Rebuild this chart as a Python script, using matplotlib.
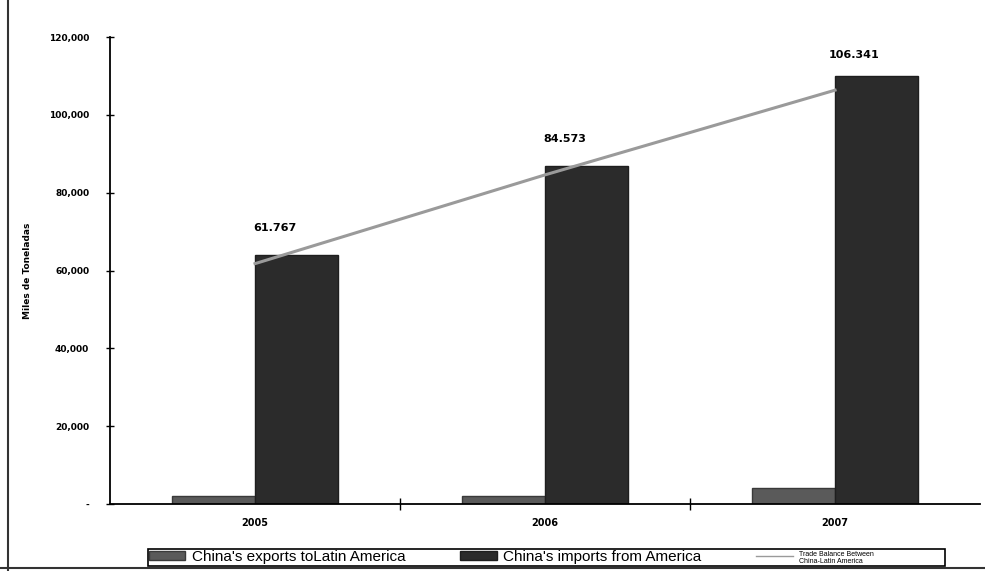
import numpy as np
import matplotlib.pyplot as plt
from matplotlib.ticker import FuncFormatter
from matplotlib.font_manager import FontProperties
from matplotlib.patches import Rectangle

# Data
years = ["2005", "2006", "2007"]
exports = [2000, 2000, 4100]          # China's exports to Latin America
imports = [64000, 86800, 110000]      # China's imports from America
balance = [61767, 84573, 106341]      # trade balance
balance_labels = ["61.767", "84.573", "106.341"]

fig = plt.figure(figsize=(9.85, 5.71), dpi=100)
ax = fig.add_axes([0.1117, 0.1173, 0.8833, 0.8179])

x = np.arange(len(years))
w = 0.286

b1 = ax.bar(x - w / 2, exports, width=w, color="#5a5a5a", edgecolor="#3a3a3a",
            linewidth=1, zorder=2)
b2 = ax.bar(x + w / 2, imports, width=w, color="#2b2b2b", edgecolor="#1e1e1e",
            linewidth=1, zorder=2)
ln, = ax.plot(x, balance, color="#9a9a9a", linewidth=2.2, zorder=3)

for xi, yi, lab in zip(x, balance, balance_labels):
    ax.annotate(lab, (xi, yi), xytext=(14, 22), textcoords="offset points",
                ha="center", va="bottom", fontsize=8, fontweight="bold",
                family="DejaVu Sans")

ax.set_xlim(-0.5, 2.5)
ax.set_ylim(0, 120000)
ax.set_yticks(range(0, 120001, 20000))
ax.yaxis.set_major_formatter(FuncFormatter(lambda v, p: "-" if v == 0 else f"{int(v):,}"))
ax.set_xticks(x)
ax.set_xticklabels(years)
ax.set_xticks([0.5, 1.5], minor=True)
ax.tick_params(axis="x", which="major", length=0, pad=10, labelsize=7)
ax.tick_params(axis="x", which="minor", length=8, direction="inout", width=1)
ax.tick_params(axis="y", length=6, direction="inout", width=1, labelsize=6.5, pad=12)
for t in ax.get_yticklabels() + ax.get_xticklabels():
    t.set_fontweight("bold")

ax.set_ylabel("Miles de Toneladas", fontsize=6.5, fontweight="bold", labelpad=12)

for s in ["top", "right"]:
    ax.spines[s].set_visible(False)
ax.spines["left"].set_linewidth(1.3)
ax.spines["bottom"].set_linewidth(1.3)

# legend without its own frame; frame drawn separately to match the wide box
leg = ax.legend([b1, b2, ln],
                ["China's exports toLatin America", "China's imports from America",
                 "Trade Balance Between\nChina-Latin America"],
                loc="center left", bbox_to_anchor=(0.151, 0.024),
                bbox_transform=fig.transFigure, ncol=3, frameon=False,
                handlelength=2.4, handleheight=0.5, handletextpad=0.4,
                columnspacing=3.6, borderpad=0, borderaxespad=0,
                prop={"family": "Liberation Sans", "size": 11})
leg.get_lines()[0].set_linewidth(1)
small = FontProperties(family="Liberation Sans", size=5)
texts = leg.get_texts()
texts[2].set_fontproperties(small)
texts[2].set_linespacing(0.9)
fig.add_artist(Rectangle((0.150, 0.009), 0.809, 0.029, transform=fig.transFigure,
                         fill=False, edgecolor="black", linewidth=1.2))

# frame lines of the original scan
fig.add_artist(plt.Line2D([0.008, 0.008], [0.0, 1.0], color="#333333", linewidth=1.5))
fig.add_artist(plt.Line2D([0.0, 1.0], [0.005, 0.005], color="#333333", linewidth=1.5))

fig.savefig("out.png", dpi=100)
